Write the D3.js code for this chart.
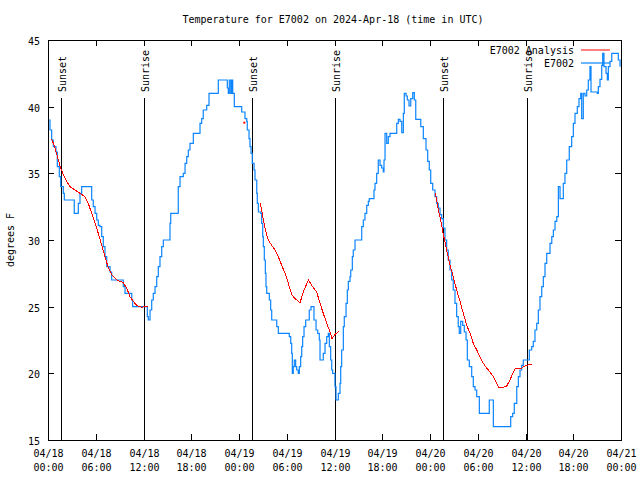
<!DOCTYPE html>
<html><head><meta charset="utf-8">
<script src="https://cdn.jsdelivr.net/npm/d3@7"></script>
<style>
body{margin:0;background:#fff;}
text{font-family:"DejaVu Sans Mono","Liberation Mono",monospace;font-size:10px;fill:#000;}
</style></head>
<body><svg id="c" width="640" height="480"></svg>
<script>
const titleText = "Temperature for E7002 on 2024-Apr-18 (time in UTC)";
const yLabel = "degrees F";
const seriesNames = ["E7002 Analysis", "E7002"];
const yTicks = [15, 20, 25, 30, 35, 40, 45];
const startTime = Date.UTC(2024, 3, 18, 0, 0);
const endTime = Date.UTC(2024, 3, 21, 0, 0);

// hours since 2024-04-18 00:00 UTC
const obsHours = [0.04,0.25,0.46,0.67,1.0,1.17,1.42,1.6,1.92,2.05,2.98,3.3,3.61,3.81,4.02,4.23,5.15,5.49,5.69,5.91,6.12,6.32,6.53,6.75,6.95,7.16,7.38,7.79,8.0,9.26,9.46,9.68,10.3,10.52,10.64,12.4,12.48,12.6,12.82,13.03,13.23,13.45,13.66,13.86,14.07,14.29,14.49,15.12,15.33,15.42,16.17,16.37,16.59,17.0,17.22,17.43,17.63,17.84,18.26,18.89,19.1,19.31,19.51,19.94,20.23,21.2,21.4,22.45,22.53,22.66,22.78,22.96,23.08,23.21,23.41,24.13,24.34,24.75,24.97,25.04,25.26,25.38,25.51,25.67,25.89,26.01,26.23,26.3,26.43,26.73,26.85,26.98,27.06,27.18,27.31,27.39,27.48,27.68,27.81,27.98,28.11,28.65,28.74,28.94,30.2,30.32,30.5,30.62,30.7,30.82,30.95,31.12,31.25,31.45,31.58,31.75,31.88,32.0,32.17,32.38,32.63,32.83,33.05,33.26,33.42,33.68,33.89,34.09,34.18,34.47,34.59,34.81,35.02,35.22,35.35,35.52,35.65,35.77,35.98,36.06,36.19,36.35,36.48,36.69,36.78,36.9,37.11,37.23,37.45,37.61,37.74,37.95,38.04,38.24,38.36,38.58,39.29,39.42,39.62,39.83,40.05,40.25,40.37,40.88,40.96,41.09,41.3,41.5,41.72,41.93,42.13,42.22,42.35,42.56,42.76,42.97,43.73,43.82,44.02,44.23,44.45,44.65,44.77,44.99,45.15,45.36,45.58,45.83,46.03,46.21,46.62,46.84,47.16,47.5,47.71,47.91,48.09,48.34,48.63,48.84,49.04,49.26,49.47,49.67,49.88,50.09,50.29,50.51,50.72,50.92,51.14,51.35,51.55,51.68,51.86,52.11,52.31,52.53,52.69,52.94,53.24,53.44,53.66,53.87,54.2,55.25,55.45,55.75,55.96,57.97,58.14,58.39,58.59,58.9,59.1,59.31,59.52,59.72,60.23,60.48,60.78,60.98,61.19,61.41,61.61,61.82,62.04,62.24,62.45,62.67,62.87,63.08,63.3,63.5,63.71,63.93,64.13,64.34,64.55,64.75,64.96,65.18,65.5,65.8,66.01,66.22,66.51,66.72,66.94,67.06,67.26,67.48,67.69,67.89,68.1,68.23,69.02,69.15,69.36,69.58,69.7,69.86,70.12,70.28,70.41,70.62,70.84,71.46,71.66,71.88];
const obsTemps = [39,38.25,37.5,37,36.6,35.5,34.75,34,33.5,33,33,32,32,32.75,33.5,34,34,33,32.5,32,31.5,31.1,31,30.25,29.5,28.75,28,27.6,27,27,26.5,26,26,25.5,25,25,24.25,24,24.75,25.5,26,26.5,27.25,28,28.75,29.5,30,30,31.25,32,32,34,34.75,35,35.75,36.25,36.75,37.25,38,38,38.75,39.1,39.75,40.1,41,41,42,42,41.4,41,42,41,42,41,40,40,39.6,39.1,38.9,38.25,37.6,37,36.5,35.75,35.25,34.5,33.5,32.75,32.1,32,31.25,30.25,29.5,28.5,27.5,26.5,26,26,25.5,24.75,24,24,23.5,23,23,22.75,22.25,21.5,20,20.5,21,20.5,20.25,20,20.5,21.25,22,22.75,23.5,24,24,24.75,25,25,24,23.25,23,22.5,21,21,21.5,22.25,22.75,23,22,21,20.25,20,20,19,18,18,18.5,19.25,20.5,21.75,23.5,24.25,25.25,26.25,26.9,27.25,27.75,28.75,29.25,30,30,31,31.5,32,32.6,32.9,33.1,33.1,33.75,34.25,35,36,35.6,35.4,35.1,36,38,37.25,37.75,38,38,38.75,39.05,38.9,38.05,39.5,41,40.8,40.5,40.05,40.6,41.05,40.5,39.05,39.05,38.5,37.6,36.75,35.9,35.25,34.25,33.75,33.25,32.75,32.4,31.9,31.6,30.9,30,29.25,28.5,27.75,27,26.25,25.25,24.25,23.5,23,23.9,23.6,23.1,22.5,21,20.5,19.75,19,18.75,18.25,17,17,18,18,16,16,16.75,17,17.75,19,19.75,20.25,20.6,21,21,21.75,22,22.4,23.25,23.75,24.75,25.75,26.5,27.25,28.25,29,29,29.75,30.25,30.75,31.4,31.75,34,33.1,33.1,34.25,35,36,37,37.75,38.75,39.5,40,40.6,41,39.1,41,40.8,41.25,42,43,41.1,41,41.5,42.05,43.1,44,43,42.5,42,43,43.4,44,44,43.5,43];

// analysis series; null marks missing values
const anaHours = [0.46,0.88,1.29,1.6,1.92,2.35,2.76,3.39,4.02,4.65,5.06,5.49,5.91,6.32,6.75,7.16,7.58,8.0,8.63,9.46,9.89,10.3,10.72,11.15,11.77,12.31,12.6,18.0,24.67,26.0,26.64,26.85,27.06,27.27,27.48,27.68,28.11,28.52,28.94,29.37,29.78,30.2,30.62,31.04,31.67,32.08,32.71,33.14,33.76,34.18,34.59,35.02,35.35,35.69,36.06,36.6,42.0,48.63,48.84,49.04,49.26,49.47,49.67,49.88,50.09,50.29,50.51,50.92,51.35,51.77,52.19,52.61,53.03,53.44,53.87,54.28,54.7,55.12,55.54,55.96,56.38,56.71,57.22,57.64,58.05,58.39,58.77,59.52,59.94,60.78];
const anaTemps = [37.6,36.9,36,35.4,34.9,34.4,34,33.75,33.5,33.25,32.75,32,31.25,30.5,29.6,28.75,27.9,27.4,27,26.8,26.4,25.75,25.4,25.1,24.95,25.05,25.05,null,38.8,null,32.75,32.25,31.5,30.9,30.4,30,29.6,29.25,28.75,28.1,27.5,26.75,25.9,25.6,25.3,26.1,27,26.6,26.1,25.25,24.5,23.75,23.25,22.6,22.9,23.2,null,33.5,33,32.25,31.75,31.1,30.4,29.9,29.25,28.75,28.1,27.25,26.25,25.4,24.5,23.6,23,22.25,21.75,21.25,20.75,20.4,20.1,19.75,19.25,18.9,18.95,19.05,19.5,20,20.4,20.4,20.55,20.7];

const sunNames = ["Sunset","Sunrise","Sunset","Sunrise","Sunset","Sunrise"];
const sunHours = [1.6,12.08,25.65,36.08,49.67,60.2];

const m = {left:48, right:621, top:40, bottom:440};
const svg = d3.select("#c");
const toDate = h => new Date(startTime + h*3600e3);
const x = d3.scaleUtc().domain([new Date(startTime), new Date(endTime)]).range([m.left, m.right]);
const y = d3.scaleLinear().domain([15,45]).range([m.bottom, m.top]);

const obs = obsHours.map((h,i)=>({t:toDate(h), v:obsTemps[i]}));
const ana = anaHours.map((h,i)=>({t:toDate(h), v:anaTemps[i]}));

svg.append("text").attr("x",333).attr("y",23).attr("text-anchor","middle").text(titleText);
svg.append("text").attr("transform","translate(14,240) rotate(-90)").attr("text-anchor","middle").text(yLabel);

const gy = svg.append("g");
yTicks.forEach(t=>{
  const yy = Math.round(y(t))+0.5;
  gy.append("line").attr("x1",m.left).attr("x2",m.left+6).attr("y1",yy).attr("y2",yy).attr("stroke","#000");
  gy.append("line").attr("x1",m.right-6).attr("x2",m.right).attr("y1",yy).attr("y2",yy).attr("stroke","#000");
  gy.append("text").attr("x",40).attr("y",yy+4).attr("text-anchor","end").text(t);
});

const xt = x.ticks(d3.utcHour.every(6));
const gx = svg.append("g");
const fmtD = d3.utcFormat("%m/%d"), fmtT = d3.utcFormat("%H:%M");
xt.forEach(d=>{
  const xx = Math.round(x(d))+0.5;
  gx.append("line").attr("x1",xx).attr("x2",xx).attr("y1",m.bottom).attr("y2",m.bottom-6).attr("stroke","#000");
  gx.append("line").attr("x1",xx).attr("x2",xx).attr("y1",m.top).attr("y2",m.top+6).attr("stroke","#000");
  gx.append("text").attr("x",xx).attr("y",457).attr("text-anchor","middle").text(fmtD(d));
  gx.append("text").attr("x",xx).attr("y",471).attr("text-anchor","middle").text(fmtT(d));
});

sunHours.forEach((h,i)=>{
  const xx = Math.round(x(toDate(h)))+0.5;
  svg.append("line").attr("x1",xx).attr("x2",xx).attr("y1",98).attr("y2",m.bottom).attr("stroke","#000");
  svg.append("text").attr("transform",`translate(${xx+4},92) rotate(-90)`).attr("text-anchor","start").text(sunNames[i]);
});

const stepLine = d3.line().curve(d3.curveStepAfter).x(d=>x(d.t)).y(d=>y(d.v));
const line = d3.line().defined(d=>d.v!==null).x(d=>x(d.t)).y(d=>y(d.v));
svg.append("path").datum(obs).attr("d",stepLine).attr("fill","none").attr("stroke","#0a84ff").attr("stroke-width",1.2);
svg.append("path").datum(ana).attr("d",line).attr("fill","none").attr("stroke","#ff0000").attr("stroke-width",1).attr("shape-rendering","crispEdges");
ana.forEach((d,i)=>{
  if(d.v===null) return;
  const p = ana[i-1], n = ana[i+1];
  if((!p||p.v===null) && (!n||n.v===null)){
    svg.append("rect").attr("x",x(d.t)-1).attr("y",y(d.v)-1).attr("width",2).attr("height",2).attr("fill","#ff0000");
  }
});

svg.append("rect").attr("x",m.left+0.5).attr("y",m.top+0.5).attr("width",m.right-m.left).attr("height",m.bottom-m.top).attr("fill","none").attr("stroke","#000");

const colors = ["#ff0000","#0a84ff"];
seriesNames.forEach((n,i)=>{
  const ly = 50 + i*13;
  svg.append("text").attr("x",574).attr("y",ly+4).attr("text-anchor","end").text(n);
  svg.append("line").attr("x1",581).attr("x2",610).attr("y1",ly).attr("y2",ly).attr("stroke",colors[i]).attr("stroke-width",i?1.2:1);
});
</script></body></html>
